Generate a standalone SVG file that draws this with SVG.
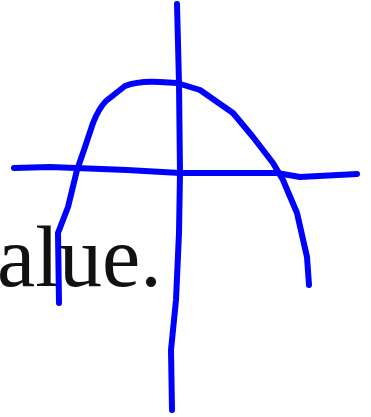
<svg xmlns="http://www.w3.org/2000/svg" width="371" height="417" viewBox="0 0 371 417">
<style>
.ink{fill:none;stroke:#0000ff;stroke-width:6;stroke-linecap:round;stroke-linejoin:round}
.t{font-family:"Liberation Serif","Times New Roman",serif;font-size:86px;fill:#111}
</style>
<rect width="371" height="417" fill="#fff"/>
<text class="t" x="-3" y="286">alue.</text>
<g id="axes">
<path class="ink" d="M177,4 L179,83 L180,173 L179,233 L176,300 L171,350 L172,410"/>
<path class="ink" d="M14,168 L50,167 L127,170 L180,173 L277,173 L300,177 L357,174"/>
</g>
<g id="curve">
<path class="ink" d="M59,303 L58,233 L68,207 L77,170 L84,150 L93,123 C97,113 100,107 106,101 L125,86 C135,82 145,81 160,82 L177,83 L200,90 L233,113 L253,137 L273,163 L283,180 L297,213 L307,257 L309,285"/>
</g>
</svg>
